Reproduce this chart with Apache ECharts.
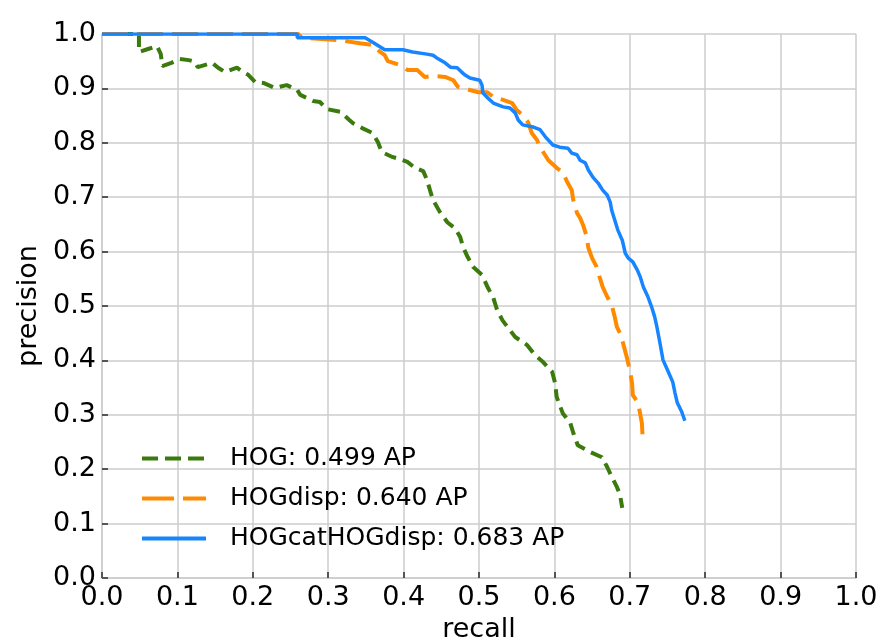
<!DOCTYPE html>
<html>
<head>
<meta charset="utf-8">
<script src="https://cdn.jsdelivr.net/npm/echarts@6/dist/echarts.min.js"></script>
<style>html,body{margin:0;padding:0;background:#fff}#c{width:883px;height:640px}</style>
</head>
<body>
<div id="c"></div>
<script>
const xTicks = [0,0.1,0.2,0.3,0.4,0.5,0.6,0.7,0.8,0.9,1.0];
const yTicks = [0,0.1,0.2,0.3,0.4,0.5,0.6,0.7,0.8,0.9,1.0];
const seriesNames = ['HOG: 0.499 AP','HOGdisp: 0.640 AP','HOGcatHOGdisp: 0.683 AP'];

const hogRecall = [0,0.049,0.049,0.060,0.073,0.078,0.080,0.092,0.103,0.115,0.123,0.127,0.146,0.154,0.163,0.179,0.187,0.194,0.203,0.214,0.229,0.245,0.259,0.263,0.280,0.289,0.298,0.316,0.328,0.333,0.345,0.359,0.366,0.371,0.385,0.395,0.405,0.415,0.426,0.431,0.435,0.439,0.448,0.458,0.468,0.475,0.479,0.485,0.492,0.504,0.512,0.519,0.524,0.531,0.538,0.548,0.564,0.574,0.585,0.597,0.601,0.603,0.611,0.621,0.625,0.631,0.647,0.663,0.670,0.676,0.683,0.687,0.690];
const hogPrecision = [1.0,1.0,0.967,0.972,0.978,0.963,0.941,0.947,0.954,0.952,0.949,0.939,0.947,0.938,0.930,0.938,0.930,0.925,0.912,0.910,0.901,0.906,0.897,0.888,0.877,0.875,0.862,0.857,0.842,0.836,0.827,0.818,0.801,0.783,0.774,0.770,0.765,0.754,0.748,0.732,0.713,0.695,0.673,0.654,0.643,0.627,0.608,0.590,0.572,0.557,0.533,0.515,0.493,0.474,0.461,0.443,0.428,0.410,0.397,0.379,0.358,0.333,0.303,0.285,0.267,0.244,0.232,0.222,0.204,0.186,0.167,0.153,0.129];

const dispRecall = [0,0.260,0.265,0.312,0.342,0.359,0.369,0.375,0.379,0.395,0.405,0.418,0.428,0.439,0.455,0.466,0.472,0.488,0.499,0.511,0.519,0.532,0.544,0.550,0.558,0.565,0.570,0.577,0.581,0.592,0.603,0.611,0.617,0.623,0.625,0.630,0.634,0.638,0.643,0.645,0.650,0.656,0.660,0.664,0.670,0.676,0.680,0.683,0.687,0.691,0.696,0.700,0.703,0.704,0.711,0.714,0.716,0.717];
const dispPrecision = [1.0,1.0,0.993,0.989,0.983,0.980,0.967,0.961,0.950,0.943,0.934,0.934,0.921,0.923,0.921,0.915,0.903,0.897,0.893,0.893,0.884,0.879,0.873,0.860,0.851,0.838,0.818,0.805,0.792,0.768,0.754,0.746,0.728,0.713,0.695,0.671,0.662,0.649,0.627,0.607,0.588,0.572,0.553,0.535,0.517,0.502,0.480,0.461,0.450,0.432,0.406,0.382,0.358,0.336,0.322,0.300,0.285,0.259];

const catRecall = [0,0.259,0.259,0.349,0.351,0.359,0.375,0.399,0.412,0.431,0.439,0.444,0.455,0.462,0.471,0.477,0.481,0.488,0.501,0.504,0.505,0.512,0.519,0.532,0.541,0.548,0.552,0.558,0.572,0.581,0.588,0.598,0.607,0.618,0.623,0.630,0.634,0.641,0.645,0.651,0.658,0.664,0.670,0.674,0.676,0.680,0.684,0.690,0.694,0.698,0.704,0.710,0.714,0.718,0.724,0.729,0.733,0.736,0.740,0.744,0.751,0.757,0.760,0.763,0.769,0.773];
const catPrecision = [1.0,1.0,0.993,0.993,0.991,0.985,0.971,0.971,0.967,0.963,0.961,0.956,0.947,0.939,0.938,0.930,0.925,0.919,0.915,0.906,0.892,0.882,0.873,0.866,0.864,0.855,0.842,0.833,0.829,0.824,0.811,0.796,0.792,0.790,0.781,0.778,0.768,0.763,0.750,0.737,0.726,0.713,0.704,0.691,0.676,0.658,0.640,0.621,0.597,0.588,0.581,0.566,0.553,0.535,0.517,0.498,0.480,0.461,0.432,0.401,0.379,0.360,0.340,0.322,0.305,0.289];

const colors = ['#3b7a0c','#ff8a00','#1685ff'];
const dashes = [[12,7],[26,9]];
function zip(a,b){return a.map((v,i)=>[v,b[i]]);}

const FONT = 'DejaVu Sans';
const chart = echarts.init(document.getElementById('c'), null, {renderer:'canvas'});
function axisCommon(){
  return {
    type:'value', min:0, max:1, interval:0.1,
    axisLine:{show:true, lineStyle:{color:'#cccccc', width:1.5}},
    axisTick:{show:true, inside:true, length:6, lineStyle:{color:'#555555', width:2}},
    splitLine:{show:true, lineStyle:{color:'#cccccc', width:1.5}},
    axisLabel:{color:'#000', fontFamily:FONT, fontSize:27, margin:6, formatter:v=>v.toFixed(1), showMinLabel:true, showMaxLabel:true},
    nameTextStyle:{color:'#000', fontFamily:FONT, fontSize:27},
    nameLocation:'middle'
  };
}
const xAxis = Object.assign(axisCommon(), {name:'recall', nameGap:38});
const yAxis = Object.assign(axisCommon(), {name:'precision', nameGap:58});

chart.setOption({
  animation:false,
  backgroundColor:'#ffffff',
  grid:{left:102, right:27, top:34, bottom:62, containLabel:false, outerBoundsMode:'none'},
  xAxis: xAxis,
  yAxis: yAxis,
  legend:{
    orient:'vertical', left:135, top:441,
    itemWidth:64, itemHeight:20, itemGap:15,
    itemStyle:{opacity:0},
    data: [
      {name:seriesNames[0], lineStyle:{type:[16,7], width:4}},
      {name:seriesNames[1], lineStyle:{type:[32,9], width:4}},
      {name:seriesNames[2], lineStyle:{width:4}}
    ],
    textStyle:{color:'#000', fontFamily:FONT, fontSize:25, padding:[0,0,0,19]}
  },
  series:[
    {name:seriesNames[0], type:'line', data:zip(hogRecall,hogPrecision), showSymbol:false, symbol:'none', z:3,
     lineStyle:{color:colors[0], width:4, type:dashes[0]}, itemStyle:{color:colors[0]}},
    {name:seriesNames[1], type:'line', data:zip(dispRecall,dispPrecision), showSymbol:false, symbol:'none', z:4,
     lineStyle:{color:colors[1], width:4, type:dashes[1]}, itemStyle:{color:colors[1]}},
    {name:seriesNames[2], type:'line', data:zip(catRecall,catPrecision), showSymbol:false, symbol:'none', z:5,
     lineStyle:{color:colors[2], width:3.5}, itemStyle:{color:colors[2]}}
  ]
});
</script>
</body>
</html>
